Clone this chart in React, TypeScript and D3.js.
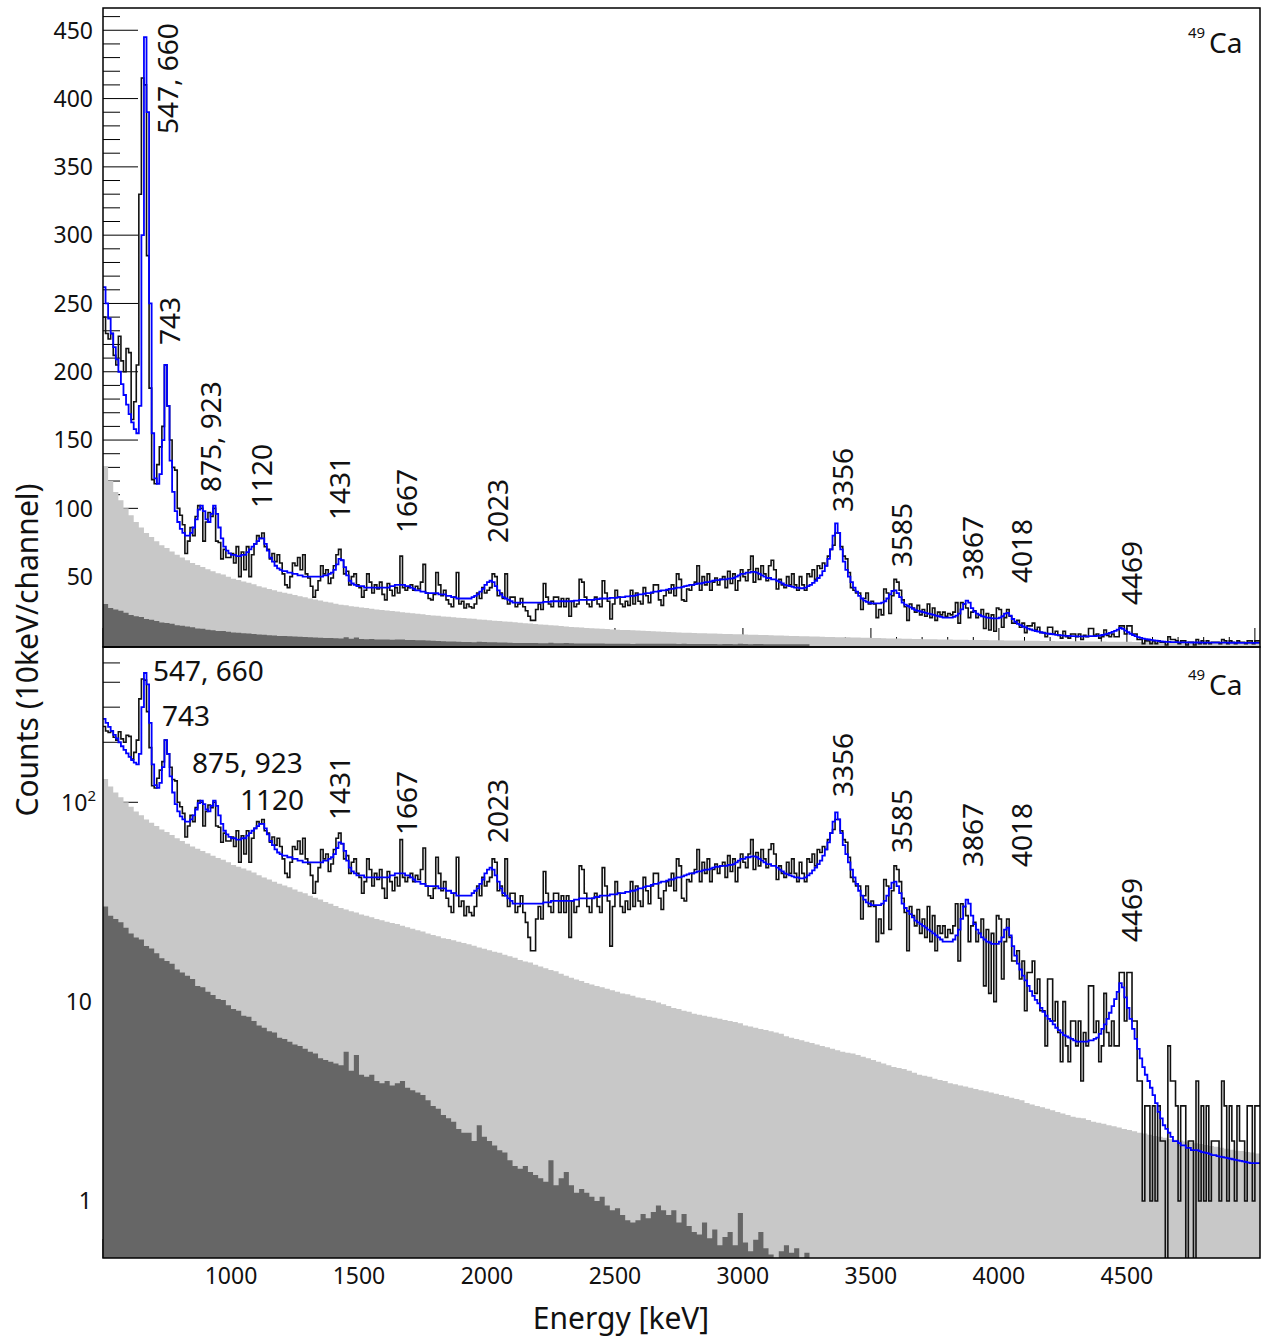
import React from 'react';
import * as d3 from 'd3';

// gamma spectrum, 49Ca, 10 keV channels from 500 keV
const E_START = 500;
const E_END = 5020;

// measured counts, 10 keV/channel (500 ... 5010)
const dataCounts = [
  240, 228, 224, 228, 212, 205, 226, 208, 200, 217,
  214, 165, 178, 205, 330, 415, 410, 285, 188, 121,
  118, 132, 145, 160, 205, 175, 150, 130, 128, 100,
  95, 88, 67, 76, 86, 80, 94, 102, 100, 76,
  90, 97, 94, 100, 76, 75, 63, 70, 64, 64,
  67, 60, 72, 50, 68, 55, 72, 50, 66, 74,
  80, 78, 82, 72, 70, 63, 67, 61, 66, 60,
  52, 44, 42, 50, 60, 58, 64, 55, 66, 52,
  49, 43, 35, 40, 47, 58, 52, 55, 45, 49,
  58, 66, 70, 62, 52, 54, 44, 50, 52, 44,
  42, 35, 40, 52, 46, 38, 44, 41, 46, 37,
  33, 45, 40, 36, 42, 38, 65, 42, 40, 42,
  44, 40, 43, 41, 46, 59, 38, 34, 33, 37,
  53, 44, 36, 40, 33, 30, 28, 35, 53, 30,
  32, 27, 30, 28, 27, 30, 38, 34, 42, 38,
  40, 42, 52, 50, 36, 38, 34, 52, 30, 35,
  35, 28, 30, 34, 28, 25, 21, 18, 18, 26,
  30, 26, 45, 35, 30, 28, 35, 35, 28, 34,
  28, 34, 21, 32, 28, 30, 48, 46, 35, 30,
  28, 33, 35, 30, 28, 47, 38, 32, 19, 30,
  40, 35, 30, 28, 32, 29, 40, 30, 38, 32,
  30, 42, 36, 31, 38, 44, 44, 33, 29, 36,
  40, 38, 44, 36, 52, 48, 33, 32, 41, 40,
  44, 46, 58, 40, 50, 44, 52, 40, 46, 49,
  44, 48, 50, 42, 54, 45, 52, 40, 47, 55,
  50, 47, 55, 65, 46, 56, 48, 58, 52, 47,
  58, 62, 55, 41, 48, 44, 42, 50, 44, 52,
  44, 40, 50, 44, 40, 52, 50, 55, 48, 58,
  56, 60, 58, 65, 70, 73, 82, 82, 72, 65,
  63, 53, 42, 40, 38, 38, 26, 34, 38, 30,
  32, 30, 20, 26, 22, 41, 38, 23, 36, 48,
  46, 40, 33, 28, 18, 30, 27, 24, 29, 22,
  26, 21, 30, 20, 27, 18, 24, 22, 24, 21,
  23, 22, 24, 31, 16, 31, 30, 27, 20, 24,
  25, 20, 22, 26, 12, 23, 11, 22, 10, 27,
  26, 13, 20, 26, 21, 16, 16, 18, 13, 16,
  9, 14, 14, 16, 11, 13, 9, 9, 6, 13,
  13, 8, 10, 7, 5, 10, 6, 5, 8, 8,
  6, 8, 4, 7, 6, 12, 12, 7, 8, 5,
  6, 11, 7, 6, 8, 6, 6, 14, 14, 8,
  14, 14, 8, 8, 4, 4, 1, 3, 3, 1,
  3, 1, 3, 2, 2, 0, 6, 4, 4, 3,
  1, 3, 3, 0, 2, 2, 0, 4, 1, 3,
  1, 3, 1, 2, 2, 2, 1, 4, 3, 1,
  3, 2, 1, 3, 2, 2, 1, 3, 3, 1,
  3, 3,
];

// simulated fit (blue), same binning
const fitCounts = [
  262, 250, 239, 228, 218, 209, 200, 191, 183, 176,
  169, 163, 158, 155, 175, 300, 445, 390, 250, 155,
  122, 118, 125, 150, 205, 175, 135, 112, 98, 90,
  85, 82, 80, 80, 82, 86, 92, 99, 102, 98,
  92, 90, 96, 102, 96, 86, 78, 72, 69, 67,
  66, 66, 65, 65, 66, 66, 68, 70, 72, 74,
  76, 78, 78, 74, 69, 64, 61, 58, 56, 55,
  54, 54, 53, 53, 52, 52, 51, 51, 50, 50,
  50, 50, 50, 50, 50, 50, 51, 51, 52, 53,
  55, 59, 63, 62, 57, 51, 47, 45, 44, 43,
  43, 43, 42, 42, 42, 42, 42, 42, 42, 42,
  42, 42, 43, 43, 44, 44, 44, 44, 43, 43,
  42, 41, 40, 40, 39, 39, 38, 38, 38, 38,
  38, 37, 37, 37, 36, 36, 35, 35, 34, 34,
  34, 34, 34, 34, 35, 36, 37, 39, 41, 44,
  46, 47, 46, 43, 40, 37, 35, 34, 33, 32,
  31, 31, 31, 31, 31, 31, 31, 31, 31, 31,
  31, 31, 31.5, 31.5, 31.5, 32, 32, 32, 32, 32,
  32, 32, 32, 32, 32.5, 32.5, 33, 33, 33, 33,
  33, 33, 33.5, 33.5, 34, 34, 34, 34, 34.5, 34.5,
  34.5, 35, 35, 35, 35.5, 35.5, 36, 36, 36.5, 37,
  37, 37.5, 38, 38, 38.5, 39, 39, 39.5, 40, 40,
  40.5, 41, 41, 41.5, 42, 42, 42.5, 43, 43.5, 44,
  44, 44.5, 45, 45, 45.5, 46, 46, 46.5, 47, 47.5,
  47.5, 48, 48, 48, 48.5, 48.5, 49, 50, 51, 52,
  52, 53, 53, 53.5, 53.5, 53, 52, 51, 50, 49,
  49, 48, 48, 47, 46, 45, 44, 43.5, 43, 42.5,
  42, 42, 41.5, 41.5, 42, 43, 44, 45.5, 47, 49,
  51, 54, 58, 63, 70, 80, 89, 82, 70, 61,
  55, 50, 46, 42, 39, 36, 34, 32.5, 31.5, 31,
  30.5, 30.5, 30.5, 30.5, 31, 32, 34, 37, 39.5, 40,
  38, 35, 31, 29.5, 28.5, 27.5, 26.5, 25.5, 25, 24.5,
  24, 23.5, 23, 22.5, 22, 21.5, 21, 20.5, 20, 20,
  20, 20, 20.5, 21.5, 23, 26, 30, 32.5, 31, 27,
  24.5, 23, 22, 21, 20.5, 20, 19.8, 19.5, 19.5, 19.5,
  20, 21, 23, 23.5, 21.5, 19, 17, 15.5, 14.5, 13.5,
  12.8, 12, 11.3, 10.7, 10.2, 9.8, 9.3, 8.9, 8.5, 8.2,
  8, 7.7, 7.4, 7.2, 7, 6.8, 6.7, 6.6, 6.5, 6.4,
  6.3, 6.3, 6.3, 6.3, 6.3, 6.4, 6.4, 6.5, 6.6, 6.9,
  7.3, 7.7, 8.2, 8.8, 9.5, 10.3, 11.2, 12.4, 11.8, 10.5,
  9.3, 8.2, 7.3, 6.5, 5.8, 5.2, 4.7, 4.3, 4, 3.7,
  3.4, 3.1, 2.8, 2.6, 2.4, 2.3, 2.2, 2.1, 2, 2,
  1.95, 1.9, 1.9, 1.85, 1.85, 1.8, 1.8, 1.8, 1.78, 1.76,
  1.75, 1.74, 1.72, 1.7, 1.7, 1.68, 1.67, 1.66, 1.65, 1.64,
  1.63, 1.62, 1.61, 1.6, 1.59, 1.58, 1.57, 1.56, 1.55, 1.55,
  1.55, 1.55,
];

// backgrounds, 20 keV bins from 500
const bgLight = [
  131, 120, 112, 106, 100, 95, 90, 86, 82, 79,
  76, 73, 71, 68.5, 66, 64, 62, 60, 58.5, 57,
  55.5, 54, 52.5, 51.5, 50, 48.5, 47.5, 46.5, 45.5, 44.5,
  43, 42, 41, 40, 39, 38.2, 37.5, 36.5, 35.6, 35,
  34, 33.2, 32.5, 31.6, 31, 30.2, 29.5, 29, 28.4, 28,
  27.4, 27, 26.5, 26, 25.6, 25.2, 24.8, 24.5, 24, 23.6,
  23.2, 22.8, 22.5, 22, 21.6, 21.3, 20.8, 20.6, 20.3, 20,
  19.7, 19.4, 19.1, 18.7, 18.4, 18.1, 17.8, 17.6, 17.2, 16.9,
  16.6, 16.2, 15.9, 15.7, 15.3, 15, 14.7, 14.4, 14.2, 13.8,
  13.5, 13.2, 12.9, 12.7, 12.4, 12.2, 12, 11.8, 11.6, 11.4,
  11.2, 11, 10.9, 10.7, 10.5, 10.4, 10.2, 10.1, 9.9, 9.7,
  9.5, 9.3, 9.2, 9, 8.9, 8.7, 8.6, 8.5, 8.4, 8.3,
  8.2, 8.1, 8, 7.9, 7.8, 7.6, 7.5, 7.4, 7.3, 7.2,
  7.1, 7, 6.9, 6.7, 6.6, 6.5, 6.4, 6.3, 6.2, 6.1,
  6, 5.9, 5.8, 5.7, 5.6, 5.55, 5.5, 5.4, 5.3, 5.2,
  5.1, 5, 4.9, 4.8, 4.7, 4.65, 4.6, 4.5, 4.4, 4.3,
  4.25, 4.2, 4.1, 4.05, 4, 3.9, 3.85, 3.8, 3.75, 3.7,
  3.65, 3.6, 3.55, 3.5, 3.45, 3.4, 3.35, 3.3, 3.25, 3.2,
  3.1, 3.05, 3, 2.95, 2.9, 2.85, 2.8, 2.75, 2.7, 2.65,
  2.62, 2.6, 2.55, 2.5, 2.47, 2.44, 2.4, 2.37, 2.34, 2.3,
  2.27, 2.24, 2.2, 2.18, 2.15, 2.12, 2.1, 2.08, 2.05, 2.03,
  2.01, 1.99, 1.97, 1.95, 1.93, 1.91, 1.89, 1.87, 1.85, 1.83,
  1.81, 1.79, 1.78, 1.76, 1.75, 1.73,
];

const bgDark = [
  30, 27, 26, 25, 23.5, 22, 21, 20.5, 19, 18.5,
  17.5, 16.5, 16, 15.5, 14.5, 14, 13.5, 13, 12, 11.8,
  11.2, 10.8, 10.3, 10.2, 9.6, 9.2, 9, 8.5, 8.4, 8,
  7.6, 7.4, 7.1, 7, 6.6, 6.5, 6.3, 6.1, 6, 5.8,
  5.6, 5.5, 5.2, 5.1, 5, 4.9, 4.8, 5.6, 4.5, 5.4,
  4.3, 4.2, 4.3, 4, 3.9, 4, 3.8, 3.9, 4, 3.7,
  3.6, 3.5, 3.4, 3.2, 3, 2.9, 2.7, 2.6, 2.5, 2.3,
  2.2, 2.2, 2, 2.4, 2.1, 2, 1.9, 1.8, 1.75, 1.6,
  1.5, 1.45, 1.5, 1.4, 1.35, 1.3, 1.25, 1.6, 1.2, 1.3,
  1.4, 1.2, 1.1, 1.15, 1.1, 1.05, 1, 1.05, 0.95, 0.9,
  0.92, 0.85, 0.8, 0.78, 0.8, 0.86, 0.82, 0.88, 0.95, 0.9,
  0.85, 0.9, 0.78, 0.86, 0.75, 0.7, 0.68, 0.78, 0.65, 0.72,
  0.6, 0.66, 0.7, 0.6, 0.87, 0.62, 0.56, 0.64, 0.7, 0.58,
  0.54, 0.52, 0.56, 0.6, 0.55, 0.58, 0.52, 0.55,
];

const linTickValues = [50, 100, 150, 200, 250, 300, 350, 400, 450];
const energyTicks = [1000, 1500, 2000, 2500, 3000, 3500, 4000, 4500];
const peakNames = ['547, 660', '743', '875, 923', '1120', '1431', '1667', '2023', '3356', '3585', '3867', '4018', '4469'];

// label placement (baseline x, start y) for rotated labels
const topLabelAt = [[178, 134], [180, 345], [221, 492], [272, 508], [350, 520], [417, 533], [508, 543], [853, 512], [912, 567], [983, 580], [1032, 583], [1142, 605]];
const botLabelAt = [
  { rot: false, x: 153, y: 681 }, { rot: false, x: 162, y: 726 }, { rot: false, x: 192, y: 773 }, { rot: false, x: 240, y: 810 },
  { rot: true, x: 350, y: 820 }, { rot: true, x: 417, y: 835 }, { rot: true, x: 508, y: 843 }, { rot: true, x: 853, y: 797 },
  { rot: true, x: 912, y: 853 }, { rot: true, x: 983, y: 867 }, { rot: true, x: 1032, y: 867 }, { rot: true, x: 1142, y: 942 },
];

const LEFT = 103, RIGHT = 1260;
const TOP = { t: 8, b: 647 };
const BOT = { t: 647, b: 1258 };
const FONT = "'Noto Sans', 'Open Sans', sans-serif";

const x = d3.scaleLinear().domain([E_START, E_END]).range([LEFT, RIGHT]);
const yLin = d3.scaleLinear().domain([-1.5, 466.3]).range([TOP.b, TOP.t]);
const yLog = d3.scaleLog().domain([0.518, 601]).range([BOT.b, BOT.t]);

const toBins = (vals: number[], step: number) => {
  const pts: [number, number][] = vals.map((v, i) => [E_START + i * step, v]);
  pts.push([E_START + vals.length * step, vals[vals.length - 1]]);
  return pts;
};

const dataPts = toBins(dataCounts, 10);
const fitPts = toBins(fitCounts, 10);
const lightPts = toBins(bgLight, 20);
const darkPts = toBins(bgDark, 20);

const Panel = ({ yf, t, b, id, log }) => {
  const line = d3.line<[number, number]>().curve(d3.curveStepAfter).x(d => x(d[0])).y(d => yf(d[1]));
  const area = d3.area<[number, number]>().curve(d3.curveStepAfter).x(d => x(d[0])).y0(b).y1(d => (d[1] > 0 ? yf(d[1]) : b));

  const xMinor = d3.range(600, 5001, 100).filter(e => e % 500 !== 0);
  const xMajor = d3.range(500, 5001, 500);
  let yMajor: number[], yMinor: number[];
  if (log) {
    yMajor = [1, 10, 100];
    yMinor = [0.6, 0.7, 0.8, 0.9];
    [1, 10, 100].forEach(dec => d3.range(2, 10).forEach(k => yMinor.push(k * dec)));
    yMinor = yMinor.filter(v => v <= 600);
  } else {
    yMajor = d3.range(0, 451, 50);
    yMinor = d3.range(0, 461, 10).filter(v => v % 50 !== 0);
  }

  return (
    <g>
      <defs>
        <clipPath id={id}>
          <rect x={LEFT} y={t} width={RIGHT - LEFT} height={b - t} />
        </clipPath>
      </defs>
      <g stroke="#000" strokeWidth={1}>
        {xMajor.map(e => <line key={'M' + e} x1={x(e)} x2={x(e)} y1={b} y2={b - 19} />)}
        {xMinor.map(e => <line key={'m' + e} x1={x(e)} x2={x(e)} y1={b} y2={b - 10} />)}
        {yMajor.map(v => <line key={'YM' + v} x1={LEFT} x2={LEFT + 35} y1={yf(v)} y2={yf(v)} />)}
        {yMinor.map(v => <line key={'Ym' + v} x1={LEFT} x2={LEFT + 17} y1={yf(v)} y2={yf(v)} />)}
      </g>
      <g clipPath={`url(#${id})`}>
        <path d={area(lightPts)} fill="#c8c8c8" />
        <path d={area(darkPts)} fill="#666666" />
        <path d={line(dataPts)} fill="none" stroke="#111" strokeWidth={1.6} />
        <path d={line(fitPts)} fill="none" stroke="#0000ff" strokeWidth={1.8} />
      </g>
      <rect x={LEFT} y={t} width={RIGHT - LEFT} height={b - t} fill="none" stroke="#000" strokeWidth={1.5} />
    </g>
  );
};

const logY = (v: number) => (v > 0 ? yLog(v) : BOT.b + 30);

export default function App() {
  return (
    <svg width={1263} height={1339} style={{ position: 'absolute', left: 0, top: 0, background: '#fff' }} fontFamily={FONT}>
      <rect x={0} y={0} width={1263} height={1339} fill="#fff" />
      <Panel yf={yLin} t={TOP.t} b={TOP.b} id="clipTop" log={false} />
      <Panel yf={logY} t={BOT.t} b={BOT.b} id="clipBot" log={true} />

      {/* y tick labels */}
      <g fontSize={23} fill="#111" textAnchor="end">
        {linTickValues.map(v => (
          <text key={v} x={93} y={yLin(v)} dy="0.36em">{v}</text>
        ))}
        <text x={92} y={yLog(1)} dy="0.36em">1</text>
        <text x={92} y={yLog(10)} dy="0.36em">10</text>
        <text x={96} y={yLog(100)} dy="0.36em">10<tspan fontSize={15} dy={-10}>2</tspan></text>
      </g>

      {/* x tick labels */}
      <g fontSize={23} fill="#111" textAnchor="middle">
        {energyTicks.map(e => (
          <text key={e} x={x(e)} y={1284}>{e}</text>
        ))}
      </g>

      <text x={621} y={1329} fontSize={30} textAnchor="middle" fill="#111">Energy [keV]</text>
      <text transform="translate(38,650) rotate(-90)" fontSize={30} textAnchor="middle" fill="#111">Counts (10keV/channel)</text>

      {/* peak labels */}
      <g fontSize={28} fill="#111">
        {peakNames.map((n, i) => (
          <text key={'t' + i} transform={`translate(${topLabelAt[i][0]},${topLabelAt[i][1]}) rotate(-90)`}>{n}</text>
        ))}
        {peakNames.map((n, i) => {
          const p = botLabelAt[i];
          return p.rot
            ? <text key={'b' + i} transform={`translate(${p.x},${p.y}) rotate(-90)`}>{n}</text>
            : <text key={'b' + i} x={p.x} y={p.y}>{n}</text>;
        })}
      </g>

      {/* nucleus tag */}
      <g fill="#111">
        <text x={1188} y={38} fontSize={15}>49</text>
        <text x={1209} y={53} fontSize={28}>Ca</text>
        <text x={1188} y={680} fontSize={15}>49</text>
        <text x={1209} y={695} fontSize={28}>Ca</text>
      </g>
    </svg>
  );
}
